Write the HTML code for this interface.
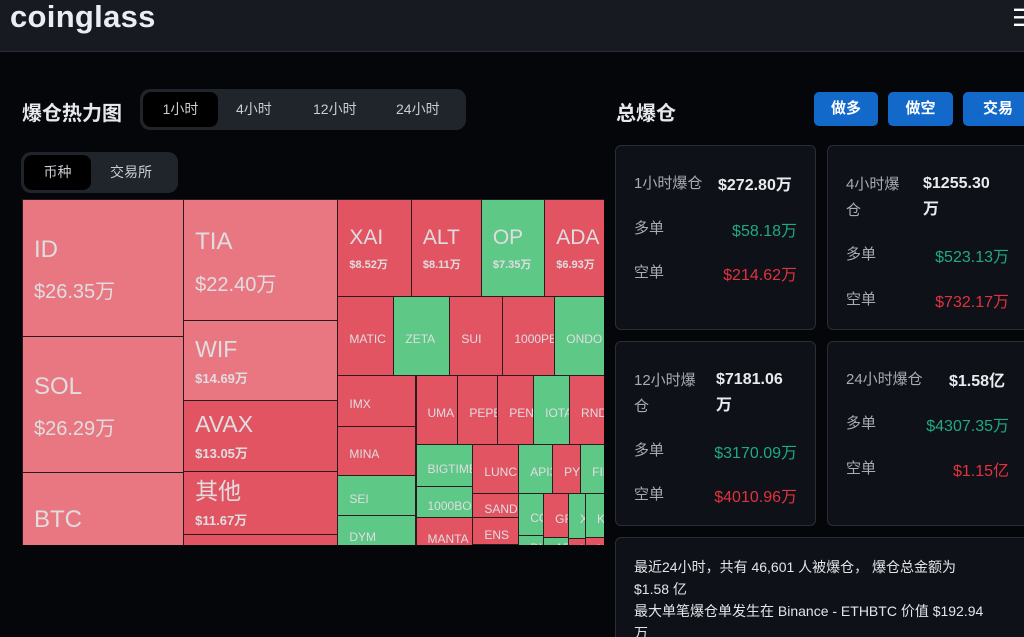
<!DOCTYPE html>
<html><head><meta charset="utf-8">
<style>
*{margin:0;padding:0;box-sizing:border-box}
html,body{width:1024px;height:637px;overflow:hidden}
body{background:#05060a;font-family:"Liberation Sans","Noto Sans CJK SC",sans-serif;color:#e6e8eb;position:relative}
.abs{position:absolute;white-space:nowrap}
#hdr{position:absolute;left:0;top:0;width:1024px;height:52px;background:#171a21;border-bottom:1px solid #2a2e35}
.tabs{position:absolute;background:#20242b;border-radius:10px}
.tab{position:absolute;font-size:14px;color:#c9ccd1;top:0;line-height:100%}
.act{background:#000;border-radius:8px}
.btn{position:absolute;top:92px;height:34px;background:#1269c9;border-radius:5px;color:#fff;font-weight:bold;font-size:15px;text-align:center;line-height:34px}
.card{position:absolute;background:#0e1117;border:1px solid #2a2e35;border-radius:6px}
.lb{color:#a7abb2;font-size:15px}
.val{font-weight:bold;font-size:16px;color:#e9ebee}
.g{color:#21a981;font-size:16px}
.r{color:#e2323f;font-size:16px}
#tm{position:absolute;left:22px;top:199px;width:582px;height:346px;overflow:hidden}
.cell{position:absolute;overflow:hidden;border:1px solid #2b1b1f;color:#e0dde0;white-space:nowrap}
</style></head><body>
<div id="hdr">
 <div class="abs" style="left:10px;top:-1px;font-size:31px;font-weight:bold;color:#e8eef2;letter-spacing:0.3px">coinglass</div>
 <div class="abs" style="left:1012px;top:4px;font-size:24px;color:#fff">☰</div>
</div>

<div class="abs" style="left:22px;top:97px;font-size:20px;font-weight:bold">爆仓热力图</div>
<div class="tabs" style="left:140px;top:89px;width:326px;height:41px">
 <div class="tab act" style="left:3px;top:3px;width:75px;height:35px;line-height:35px;text-align:center">1小时</div>
 <div class="tab" style="left:96px;line-height:41px">4小时</div>
 <div class="tab" style="left:173px;line-height:41px">12小时</div>
 <div class="tab" style="left:256px;line-height:41px">24小时</div>
</div>
<div class="tabs" style="left:21px;top:152px;width:157px;height:41px">
 <div class="tab act" style="left:3px;top:3px;width:67px;height:35px;line-height:35px;text-align:center">币种</div>
 <div class="tab" style="left:89px;line-height:41px">交易所</div>
</div>

<div id="tm"></div>

<div class="abs" style="left:616px;top:97px;font-size:20px;font-weight:bold">总爆仓</div>
<div class="btn" style="left:814px;width:64px">做多</div>
<div class="btn" style="left:888px;width:65px">做空</div>
<div class="btn" style="left:963px;width:70px">交易</div>

<div class="card" style="left:615px;top:145px;width:201px;height:185px"></div>
<div class="card" style="left:827px;top:145px;width:210px;height:185px"></div>
<div class="card" style="left:615px;top:341px;width:201px;height:185px"></div>
<div class="card" style="left:827px;top:341px;width:210px;height:185px"></div>
<div class="card" style="left:615px;top:537px;width:420px;height:110px"></div>

<div class="abs lb" style="left:634px;top:172px">1小时爆仓</div>
<div class="abs val" style="left:718px;top:171px">$272.80万</div>
<div class="abs lb" style="left:634px;top:217px">多单</div>
<div class="abs g" style="right:227px;top:217px">$58.18万</div>
<div class="abs lb" style="left:634px;top:261px">空单</div>
<div class="abs r" style="right:227px;top:261px">$214.62万</div>

<div class="abs lb" style="left:846px;top:172px;line-height:26px">4小时爆<br>仓</div>
<div class="abs val" style="left:923px;top:171px;line-height:26px">$1255.30<br>万</div>
<div class="abs lb" style="left:846px;top:243px">多单</div>
<div class="abs g" style="right:15px;top:243px">$523.13万</div>
<div class="abs lb" style="left:846px;top:288px">空单</div>
<div class="abs r" style="right:15px;top:288px">$732.17万</div>

<div class="abs lb" style="left:634px;top:368px;line-height:26px">12小时爆<br>仓</div>
<div class="abs val" style="left:716px;top:367px;line-height:26px">$7181.06<br>万</div>
<div class="abs lb" style="left:634px;top:439px">多单</div>
<div class="abs g" style="right:227px;top:439px">$3170.09万</div>
<div class="abs lb" style="left:634px;top:483px">空单</div>
<div class="abs r" style="right:227px;top:483px">$4010.96万</div>

<div class="abs lb" style="left:846px;top:368px">24小时爆仓</div>
<div class="abs val" style="left:949px;top:367px">$1.58亿</div>
<div class="abs lb" style="left:846px;top:412px">多单</div>
<div class="abs g" style="right:15px;top:412px">$4307.35万</div>
<div class="abs lb" style="left:846px;top:457px">空单</div>
<div class="abs r" style="right:15px;top:457px">$1.15亿</div>

<div class="abs" style="left:634px;top:556px;font-size:14px;line-height:22px;color:#e3e5e8">最近24小时，共有 46,601 人被爆仓， 爆仓总金额为<br>$1.58 亿<br>最大单笔爆仓单发生在 Binance - ETHBTC 价值 $192.94<br>万</div>

<script>
const names=['ID','SOL','BTC','TIA','WIF','AVAX','其他','ETH','XAI','ALT','OP','ADA','MATIC','ZETA','SUI','1000PEPE','ONDO','IMX','MINA','SEI','DYM','TRB','UMA','PEPE','PENDLE','IOTA','RNDR','BIGTIME','1000BONK','MANTA','LUNC','SAND','ENS','STX','API3','PYTH','FIL','COMP','DYDX','GRT','ARB','XRP','LINK','KAVA','NEAR','WLD','INJ','APT'];
const values=[26.35,26.29,25,22.40,14.69,13.05,11.67,12.5,8.52,8.11,7.35,6.93,5.29,5.29,5.0,4.9,4.7,4.75,4.57,3.73,3.5,4.65,3.46,3.30,2.97,2.97,2.89,2.86,2.11,2.38,2.69,1.32,1.48,0.44,1.99,1.64,1.40,1.25,0.51,1.3,0.46,0.9,0.3,1.0,0.34,4,3.6,3.6];
const tones=['p','p','p','p','p','r','r','r','r','r','g','r','r','g','r','r','g','r','r','g','g','r','r','r','r','g','r','g','g','r','r','r','r','g','g','r','g','g','g','r','g','g','r','g','r','r','g','r'];
const tree=['h',[
 ['v',['ID','SOL','BTC']],
 ['v',['TIA','WIF','AVAX','其他','ETH']],
 ['v',[
  ['h',['XAI','ALT','OP','ADA']],
  ['h',['MATIC','ZETA','SUI','1000PEPE','ONDO']],
  ['h',[
   ['v',['IMX','MINA','SEI','DYM','TRB']],
   ['v',[
    ['h',['UMA','PEPE','PENDLE','IOTA','RNDR']],
    ['h',[
     ['v',['BIGTIME','1000BONK','MANTA']],
     ['v',['LUNC','SAND','ENS','STX']],
     ['v',[
      ['h',['API3','PYTH','FIL']],
      ['h',[['v',['COMP','DYDX']],['v',['GRT','ARB']],['v',['XRP','LINK']],['v',['KAVA','NEAR']]]]
     ]]
    ]],
    ['h',['WLD','INJ','APT']]
   ]]
  ]]
 ]]
]];
const colors={p:'#e97781',r:'#e25462',g:'#5ec887'};
const tm=document.getElementById('tm');
const W=582,H=403;
function sum(n){if(typeof n==='string')return values[names.indexOf(n)];return n[1].reduce((a,c)=>a+sum(c),0);}
function fmt(v){return '$'+v.toFixed(2)+'万';}
function leaf(name,x,y,w,h){
 const i=names.indexOf(name),v=values[i];
 const d=document.createElement('div');
 d.className='cell';
 
 
 d.style.cssText+=`left:${x}px;top:${y}px;width:${w+1}px;height:${h+1}px;background:${colors[tones[i]]};`;
 let ns,vs,gap,vb;
 if(v>=20){ns=24;vs=20;gap=42;vb='normal'}else if(v>=11){ns=23;vs=13;gap=29;vb='bold'}else if(v>=6){ns=21;vs=11;gap=28;vb='bold'}else{ns=12;vs=0;gap=0}
 const cy=h/2+3;
 const t=document.createElement('div');
 t.style.cssText=`position:absolute;left:11px;top:${cy-gap/2-ns*0.6}px;font-size:${ns}px;line-height:${ns*1.2}px`;
 t.textContent=name;d.appendChild(t);
 if(vs){const u=document.createElement('div');
  u.style.cssText=`position:absolute;left:11px;top:${cy+gap/2-vs*0.6}px;font-size:${vs}px;line-height:${vs*1.2}px;font-weight:${vb}`;
  u.textContent=fmt(v);d.appendChild(u);}
 tm.appendChild(d);
}
function layout(n,x,y,w,h){
 if(typeof n==='string'){leaf(n,x,y,w,h);return;}
 const tot=sum(n);let off=0;
 n[1].forEach(c=>{const f=sum(c)/tot;
  if(n[0]==='h'){layout(c,x+off,y,w*f,h);off+=w*f;}
  else{layout(c,x,y+off,w,h*f);off+=h*f;}});
}
layout(tree,0,0,W,H);
</script>
</body></html>
